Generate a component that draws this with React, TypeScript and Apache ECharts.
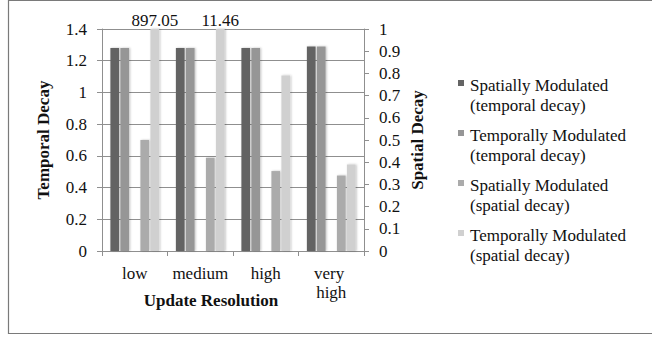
import React, { useEffect, useRef } from "react";
import * as echarts from "echarts";

// Update resolution levels on the category axis
const categories = ["low", "medium", "high", "very high"];

// Temporal decay (left axis)
const spatialModTemporal = [1.28, 1.28, 1.28, 1.29];
const temporalModTemporal = [1.28, 1.28, 1.28, 1.29];

// Spatial decay (right axis)
const spatialModSpatial = [0.5, 0.42, 0.36, 0.34];
const temporalModSpatial = [897.05, 11.46, 0.79, 0.39];

// Axis ranges
const TEMPORAL_MAX = 1.4;
const TEMPORAL_STEP = 0.2;
const SPATIAL_MAX = 1;
const SPATIAL_STEP = 0.1;

const seriesNames = [
  "Spatially Modulated\n(temporal decay)",
  "Temporally Modulated\n(temporal decay)",
  "Spatially Modulated\n(spatial decay)",
  "Temporally Modulated\n(spatial decay)",
];

const FONT = "'Liberation Serif', 'Times New Roman', Times, serif";
const TEXT = "#111";
const LINE = "#8f8f8f";

const regular = { fontFamily: FONT, fontSize: 17, fontWeight: "normal", color: TEXT };
const bold = { fontFamily: FONT, fontSize: 17, fontWeight: "bold", color: TEXT };

// Legend marker: a 6px square near the top of a 6x40 box, so it sits
// beside the first line of each two-line name.
const LEGEND_ICON = "path://M0 0L0.001 0M0 40L0.001 40M0 5H6V11H0Z";

export default function App() {
  const ref = useRef<HTMLDivElement>(null);

  useEffect(() => {
    document.body.style.margin = "0";
    const chart = echarts.init(ref.current!, null, { renderer: "svg" });

    const barShadow = {
      shadowBlur: 2,
      shadowColor: "rgba(0,0,0,0.25)",
      shadowOffsetX: 1,
      shadowOffsetY: 0,
    };

    const option: any = {
      animation: false,
      backgroundColor: "#fff",
      textStyle: { fontFamily: FONT },
      graphic: [
        {
          type: "rect",
          shape: { x: 8.5, y: 0.5, width: 700, height: 333 },
          style: { fill: "none", stroke: "#7a7a7a", lineWidth: 1.2 },
          silent: true,
          z: 100,
        },
      ],
      grid: { left: 102, right: 288, top: 29, bottom: 86 },
      legend: {
        orient: "vertical",
        left: 458,
        top: 75,
        padding: 0,
        itemGap: 10,
        itemWidth: 6,
        itemHeight: 40,
        icon: LEGEND_ICON,
        data: seriesNames,
        textStyle: {
          ...regular,
          lineHeight: 20,
          padding: [0, 0, 0, 1],
        },
      },
      xAxis: {
        type: "category",
        data: categories,
        name: "Update Resolution",
        nameLocation: "middle",
        nameGap: 40,
        nameMoveOverlap: false,
        nameTextStyle: {
          ...bold,
          lineHeight: 19,
          padding: [0, 44, 0, 0],
        },
        axisLine: { lineStyle: { color: LINE } },
        axisTick: { show: true, length: 5, lineStyle: { color: LINE } },
        axisLabel: {
          ...regular,
          interval: 0,
          margin: 13,
          lineHeight: 19,
          width: 60,
          overflow: "break",
        },
      },
      yAxis: [
        {
          type: "value",
          min: 0,
          max: TEMPORAL_MAX,
          interval: TEMPORAL_STEP,
          name: "Temporal Decay",
          nameLocation: "middle",
          nameGap: 50,
          nameMoveOverlap: false,
          nameTextStyle: bold,
          axisLine: { show: true, lineStyle: { color: LINE } },
          axisTick: { show: true, length: 5, lineStyle: { color: LINE } },
          axisLabel: { ...regular, margin: 15 },
          splitLine: { show: true, lineStyle: { color: LINE, width: 1 } },
        },
        {
          type: "value",
          min: 0,
          max: SPATIAL_MAX,
          interval: SPATIAL_STEP,
          name: "Spatial Decay",
          nameLocation: "middle",
          nameGap: 45,
          nameMoveOverlap: false,
          nameTextStyle: bold,
          axisLine: { show: true, lineStyle: { color: LINE } },
          axisTick: { show: true, length: 5, lineStyle: { color: LINE } },
          axisLabel: { ...regular, margin: 15 },
          splitLine: { show: false },
        },
      ],
      series: [
        {
          name: seriesNames[0],
          type: "bar",
          yAxisIndex: 0,
          data: spatialModTemporal,
          barWidth: 8.7,
          barGap: "15%",
          itemStyle: { color: "#646464", ...barShadow },
        },
        {
          name: seriesNames[1],
          type: "bar",
          yAxisIndex: 0,
          data: temporalModTemporal,
          barWidth: 8.7,
          barGap: "15%",
          itemStyle: { color: "#969696", ...barShadow },
        },
        {
          // empty slot separating the two axis groups
          name: "spacer",
          type: "bar",
          yAxisIndex: 0,
          data: categories.map(() => "-"),
          barWidth: 8.7,
          barGap: "15%",
          silent: true,
        },
        {
          name: seriesNames[2],
          type: "bar",
          yAxisIndex: 1,
          data: spatialModSpatial,
          barWidth: 8.7,
          barGap: "15%",
          itemStyle: { color: "#ababab", ...barShadow },
        },
        {
          name: seriesNames[3],
          type: "bar",
          yAxisIndex: 1,
          data: temporalModSpatial,
          barWidth: 8.7,
          barGap: "15%",
          clip: true,
          itemStyle: { color: "#d0d0d0", ...barShadow },
          label: {
            show: true,
            position: "top",
            distance: 0,
            ...regular,
            formatter: (p: any) => (p.value > SPATIAL_MAX ? String(p.value) : ""),
          },
        },
      ],
    };

    chart.setOption(option);
    return () => chart.dispose();
  }, []);

  return (
    <div
      ref={ref}
      style={{ position: "absolute", left: 0, top: 0, width: 652, height: 337 }}
    />
  );
}
